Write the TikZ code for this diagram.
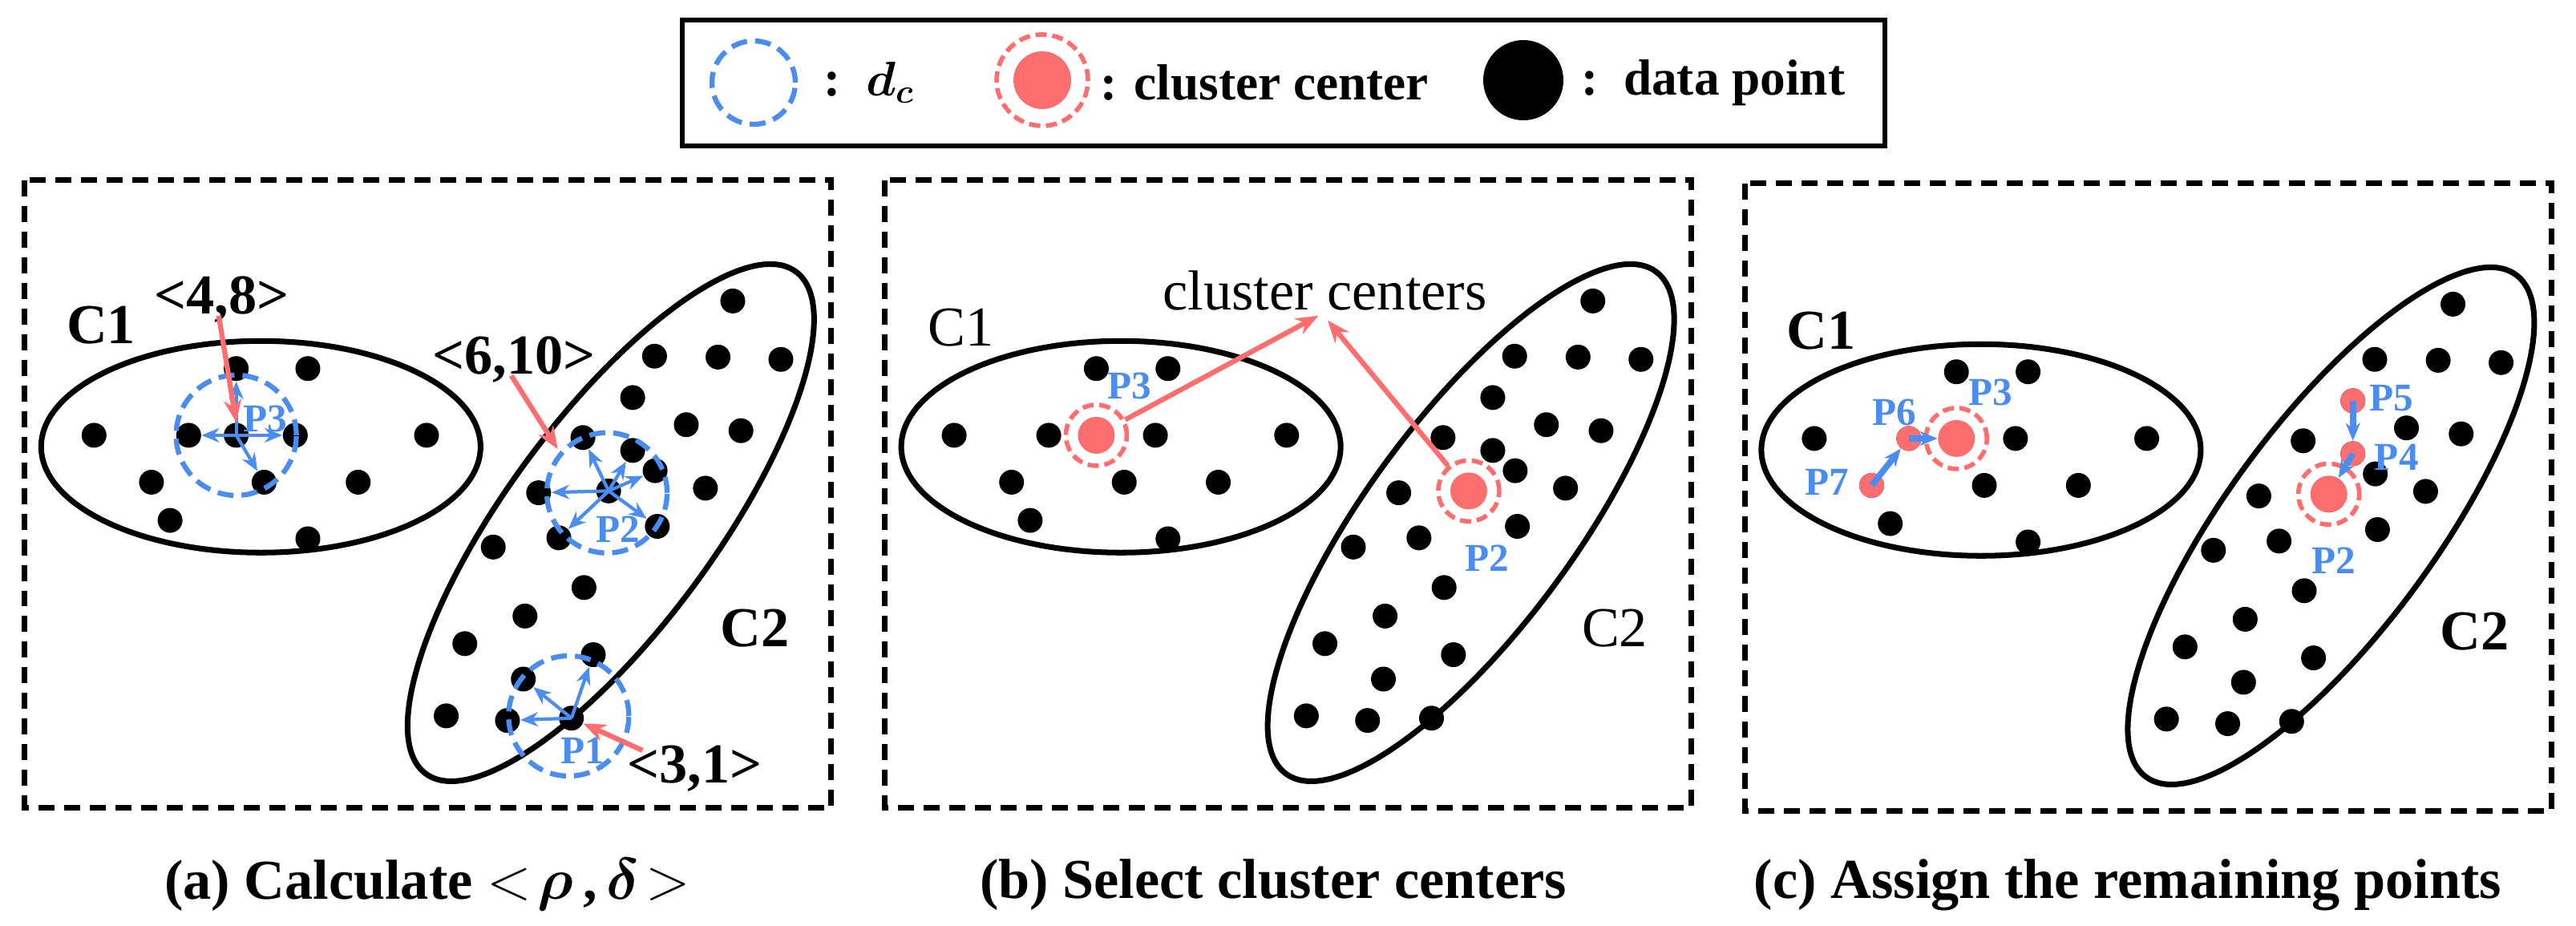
\documentclass[tikz,border=0pt]{standalone}
\usepackage{amsmath}
\usepackage{fontspec}
\setmainfont{Liberation Serif}
\usetikzlibrary{arrows.meta}
\definecolor{ptblue}{RGB}{74,140,240}
\definecolor{ptred}{RGB}{255,110,110}
% data points of one panel (local panel units)
\newcommand{\dotlist}{172/685,345/685,432/685,540/685,780/685,432/540,563/540,277/787,483/787,655/787,311/870,563/910,
1340/393,1197/513,1313/515,1428/520,1157/603,1255/662,1355/675,1066/690,1157/718,1198/762,985/810,1113/806,1290/800,
1202/883,1022/908,902/928,1068/1016,960/1078,850/1138,1085/1162,957/1215,816/1295,928/1305,1045/1300}
\begin{document}
\begin{tikzpicture}[
    dot/.style={circle,fill=black,inner sep=0pt,minimum size=0.31cm},
    reddot/.style={circle,fill=ptred,inner sep=0pt,minimum size=0.31cm},
    cent/.style={circle,fill=ptred,inner sep=0pt,minimum size=0.46cm},
    ring/.style={circle,draw=ptred,line width=1.6pt,dash pattern=on 0.14cm off 0.07cm,inner sep=0pt,minimum size=0.76cm},
    dcirc/.style={circle,draw=ptblue,line width=1.8pt,dash pattern=on 0.2cm off 0.1cm,inner sep=0pt,minimum size=1.5cm},
    frame/.style={line width=1.9pt,dash pattern=on 0.2cm off 0.12cm},
    clu/.style={line width=2pt},
    lab/.style={font=\fontsize{20}{24}\selectfont\bfseries},
    nlab/.style={font=\fontsize{20}{24}\selectfont},
    glab/.style={font=\fontsize{18}{22}\selectfont\bfseries,anchor=west},
    plab/.style={font=\fontsize{14}{16}\selectfont\bfseries,text=ptblue,inner sep=1pt},
    barr/.style={ptblue,line width=1.2pt,-{Stealth[length=0.22cm,width=0.18cm]}},
    rarr/.style={ptred,line width=1.8pt,-{Stealth[length=0.28cm,width=0.22cm]}},
    panel/.style={x=0.006824cm,y=-0.00574cm}]
\useasboundingbox (0,0) rectangle (32.13,-11.54);

% legend
\draw[line width=1.5pt] (8.51,-0.25) rectangle (23.51,-1.82);
\node[dcirc,minimum size=1.04cm] (lgdc) at (9.40,-1.03) {};
\node[glab] (lgdctxt) at (10.15,-1.03) {:\ \ $\boldsymbol{d_c}$};
\node[cent,minimum size=0.72cm] (lgcent) at (13.00,-1.00) {};
\node[ring,minimum size=1.14cm] (lgring) at (13.00,-1.00) {};
\node[glab] (lgcenttxt) at (13.60,-1.03) {: cluster center};
\node[dot,minimum size=1.0cm] (lgdot) at (19.00,-1.00) {};
\node[glab] (lgdottxt) at (19.60,-1.03) {:\ \ data point};

% panel frames, clusters and points
\foreach \p/\dx/\dy in {a/0/0,b/1073.4/0,c/2146.8/4}{
  \begin{scope}[shift={({\dx*0.01cm},{-(150+\dy)*0.01cm})},panel]
    \draw[frame] (45,130) rectangle (1520,1495);
    \draw[clu] (477,710) ellipse [x radius=2.74cm,y radius=1.32cm];
    \draw[clu] (1117,875) ellipse [x radius=3.89cm,y radius=1.30cm,rotate=53.6];
    \foreach \x/\y [count=\i] in \dotlist
      \node[dot] (\p\i) at (\x,\y) {};
  \end{scope}
}

% (a)
\begin{scope}[shift={(0,-1.5)},panel]
  \node[lab] (ac1) at (185,445) {C1};
  \node[lab] (ac2) at (1380,1105) {C2};
  \node[dcirc] (ad3) at (a3) {};
  \node[dcirc] (ad24) at (1110,810) {};
  \node[dcirc] (ad36) at (1040,1295) {};
  \foreach \t in {2,4,6,9} \draw[barr] (a3.center) -- (a\t);
  \foreach \t in {23,20,21,22,26,27} \draw[barr] (a24.center) -- (a\t);
  \foreach \t in {35,33,32} \draw[barr] (a36.center) -- (a\t);
  \node[plab] (ap3) at (485,650) {P3};
  \node[plab] (ap2) at (1130,890) {P2};
  \node[plab] (ap1) at (1065,1370) {P1};
  \node[lab] (l48) at (405,390) {<4,8>};
  \node[lab] (l610) at (940,520) {<6,10>};
  \node[lab] (l31) at (1270,1410) {<3,1>};
  \coordinate (s48) at (400,425);
  \coordinate (s610) at (935,555);
  \coordinate (t610) at (1020,715);
  \coordinate (s31) at (1175,1370);
  \draw[rarr] (s48) -- (a3.north);
  \draw[rarr] (s610) -- (t610);
  \draw[rarr] (s31) -- (a36);
\end{scope}

% (b)
\begin{scope}[shift={({1073.4*0.01cm},-1.5)},panel]
  \node[nlab] (bc1) at (185,450) {C1};
  \node[nlab] (bc2) at (1380,1105) {C2};
  \node[cent] (bk3) at (b3) {};
  \node[ring] (br3) at (b3) {};
  \node[cent] (bk24) at (b24) {};
  \node[ring] (br24) at (b24) {};
  \node[plab] (bp3) at (492,578) {P3};
  \node[plab] (bp2) at (1147,952) {P2};
  \node[nlab] (cc) at (850,370) {cluster centers};
  \coordinate (ccl) at (838,425);
  \coordinate (ccr) at (855,435);
  \draw[rarr] (br3) -- (ccl);
  \draw[rarr] (br24) -- (ccr);
\end{scope}

% (c)
\begin{scope}[shift={({2146.8*0.01cm},-1.54)},panel]
  \node[lab] (cc1) at (185,450) {C1};
  \node[lab] (cc2) at (1380,1105) {C2};
  \foreach \t in {2,8,17,21} \node[reddot] (cr\t) at (c\t) {};
  \node[cent] (ck3) at (c3) {};
  \node[ring] (cg3) at (c3) {};
  \node[cent] (ck24) at (c24) {};
  \node[ring] (cg24) at (c24) {};
  \node[plab] (cp3) at (495,585) {P3};
  \node[plab] (cp6) at (318,628) {P6};
  \node[plab] (cp7) at (195,780) {P7};
  \node[plab] (cp5) at (1227,598) {P5};
  \node[plab] (cp4) at (1237,725) {P4};
  \node[plab] (cp2) at (1122,950) {P2};
  \draw[barr,line width=2.2pt] (cr8.center) -- (cr2);
  \draw[barr,line width=2.2pt] (cr2.center) -- (ck3);
  \draw[barr,line width=2.2pt] (cr17.center) -- (cr21);
  \draw[barr,line width=2.2pt] (cr21.center) -- (ck24);
\end{scope}

% captions
\node[lab] (capa) at (5.33,-11.04) {(a) Calculate $<\!\boldsymbol{\rho}$\,,\,$\boldsymbol{\delta}\!>$};
\node[lab] (capb) at (15.88,-11.04) {(b) Select cluster centers};
\node[lab] (capc) at (26.54,-11.04) {(c) Assign the remaining points};
\end{tikzpicture}
\end{document}
